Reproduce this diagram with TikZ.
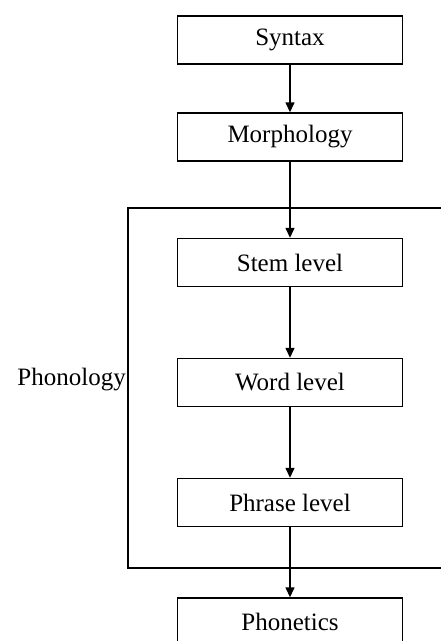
\documentclass[tikz,border=0pt]{standalone}
\usepackage{fontspec}
\setmainfont{Liberation Serif}
\usepackage{tikz}
\usetikzlibrary{arrows.meta}
\tikzset{levelbox/.style={draw, line width=1.4pt, minimum width=225pt, minimum height=48pt, inner sep=0pt, font=\fontsize{25}{30}\selectfont},
  flow/.style={line width=1.4pt, -{Triangle[length=10pt,width=9pt]}}}
\newcommand{\levelbox}[4]{ \node[levelbox] (#1) at ( #2 , #3 ) {#4};}

\begin{document}
\begin{tikzpicture}[x=1pt,y=-1pt]
        \useasboundingbox (0,0) rectangle (441,641);
        % outer part
        \levelbox{syn}{290}{40}{Syntax}
        \levelbox{mor}{290}{137}{Morphology}

        % phonology frame
        \draw[line width=1.4pt] (128,208) rectangle (470,568);
        \node[anchor=east, inner sep=2pt, font=\fontsize{25}{30}\selectfont] (pho) at (128,380) {Phonology};

        \levelbox{stem}{290}{262.5}{Stem level}
        \levelbox{word}{290}{382.5}{Word level}
        \levelbox{phr}{290}{502.5}{Phrase level}

        \levelbox{pht}{290}{622}{Phonetics}

        % arrows
        \draw[flow] (syn) -- (mor);
        \draw[flow] (mor) -- (stem);
        \draw[flow] (stem) -- (word);
        \draw[flow] (word) -- (phr);
        \draw[flow] (phr) -- (pht);
\end{tikzpicture}
\end{document}
